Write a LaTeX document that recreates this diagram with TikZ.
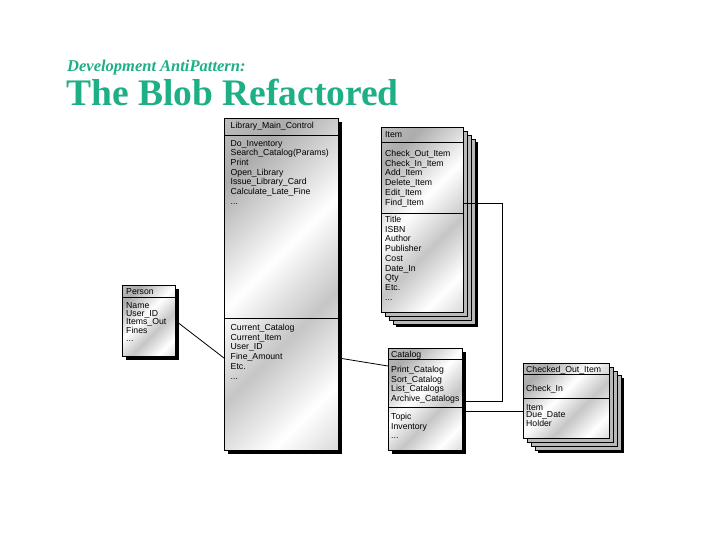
\documentclass[tikz,border=0pt]{standalone}
\usepackage{fontspec}
\setmainfont{Liberation Serif}
\setsansfont{Liberation Sans}
\usepackage{tikz}
\usetikzlibrary{shadows}
\definecolor{titlegreen}{RGB}{30,175,135}
\pgfdeclarehorizontalshading{metal}{100bp}{color(0bp)=(gray!35); color(25bp)=(gray!65); color(45bp)=(white); color(60bp)=(gray!45); color(75bp)=(white); color(100bp)=(gray!70)}

\begin{document}
\begin{tikzpicture}[x=1pt, y=-1pt,
  classbox/.style={draw=black, line width=0.7pt, shading=metal, shading angle=-45, anchor=north west, inner sep=0pt,
    general shadow={fill=black, shadow xshift=4pt, shadow yshift=-4pt}},
  stackbox/.style={draw=black, line width=0.7pt, shading=metal, shading angle=-45, anchor=north west, inner sep=0pt,
    general shadow={fill=black, shadow xshift=14.5pt, shadow yshift=-15pt},
    general shadow={fill=gray!55, draw=black, shadow xshift=11.5pt, shadow yshift=-12pt},
    general shadow={fill=gray!55, draw=black, shadow xshift=8pt, shadow yshift=-8pt},
    general shadow={fill=gray!55, draw=black, shadow xshift=4pt, shadow yshift=-4pt}},
  members/.style={anchor=north west, align=left, inner sep=0pt, font=\sffamily\fontsize{8.7}{9.7}\selectfont},
  conn/.style={draw=black, line width=0.8pt}]
  \fill[white] (0,0) rectangle (720,540);
  \useasboundingbox (0,0) rectangle (720,540);

  \node[anchor=base west, inner sep=0pt, text=titlegreen, font=\fontsize{16.5}{18}\selectfont\bfseries\itshape] (subtitle) at (67,72) {Development AntiPattern:};
  \node[anchor=base west, inner sep=0pt, text=titlegreen, font=\fontsize{37.5}{42}\selectfont\bfseries] (title) at (66,106) {The Blob Refactored};

  \node[classbox, minimum width=114pt, minimum height=332pt] (lib) at (224,118) {};
  \draw (lib.west |- 0,135) -- (lib.east |- 0,135);
  \draw (lib.west |- 0,318) -- (lib.east |- 0,318);
  \node[members] (libhead) at (230.5,122) {Library\_Main\_Control};
  \node[members] (libops) at (230.5,140) {Do\_Inventory\\Search\_Catalog(Params)\\Print\\Open\_Library\\Issue\_Library\_Card\\Calculate\_Late\_Fine\\...};
  \node[members] (libattrs) at (230.5,324) {Current\_Catalog\\Current\_Item\\User\_ID\\Fine\_Amount\\Etc.\\...};

  \node[stackbox, minimum width=82pt, minimum height=185pt] (item) at (381,127) {};
  \draw (item.west |- 0,142) -- (item.east |- 0,142);
  \draw (item.west |- 0,213) -- (item.east |- 0,213);
  \node[members] (itemhead) at (385,131) {Item};
  \node[members] (itemops) at (385,150) {Check\_Out\_Item\\Check\_In\_Item\\Add\_Item\\Delete\_Item\\Edit\_Item\\Find\_Item};
  \node[members] (itemattrs) at (385,216) {Title\\ISBN\\Author\\Publisher\\Cost\\Date\_In\\Qty\\Etc.\\...};

  \node[classbox, minimum width=53pt, minimum height=71pt] (person) at (122,285) {};
  \draw (person.west |- 0,297) -- (person.east |- 0,297);
  \node[members] (personhead) at (126,288) {Person};
  \node[members, font=\sffamily\fontsize{8.7}{8.4}\selectfont] (personattrs) at (126,302) {Name\\User\_ID\\Items\_Out\\Fines\\...};

  \node[classbox, minimum width=74pt, minimum height=102pt] (cat) at (388,348) {};
  \draw (cat.west |- 0,359) -- (cat.east |- 0,359);
  \draw (cat.west |- 0,407) -- (cat.east |- 0,407);
  \node[members] (cathead) at (391,351) {Catalog};
  \node[members] (catops) at (391,366) {Print\_Catalog\\Sort\_Catalog\\List\_Catalogs\\Archive\_Catalogs};
  \node[members] (catattrs) at (391,413) {Topic\\Inventory\\...};

  \node[stackbox, minimum width=86pt, minimum height=75pt] (chk) at (523,363) {};
  \draw (chk.west |- 0,374) -- (chk.east |- 0,374);
  \draw (chk.west |- 0,398) -- (chk.east |- 0,398);
  \node[members] (chkhead) at (526,366) {Checked\_Out\_Item};
  \node[members] (chkops) at (526,385) {Check\_In};
  \node[members, font=\sffamily\fontsize{8.7}{7.6}\selectfont] (chkattrs) at (526,404) {Item\\Due\_Date\\Holder};

  \draw[conn] (person.east) -- (lib.west |- 0,358);
  \draw[conn] (lib.east |- 0,358) -- (cat.west |- 0,366);
  \draw[conn] (item.east |- 0,203) -| (502,401) -- (cat.east |- 0,401);
  \draw[conn] (cat.east |- 0,411) -- (chk.west |- 0,411);
\end{tikzpicture}
\end{document}
